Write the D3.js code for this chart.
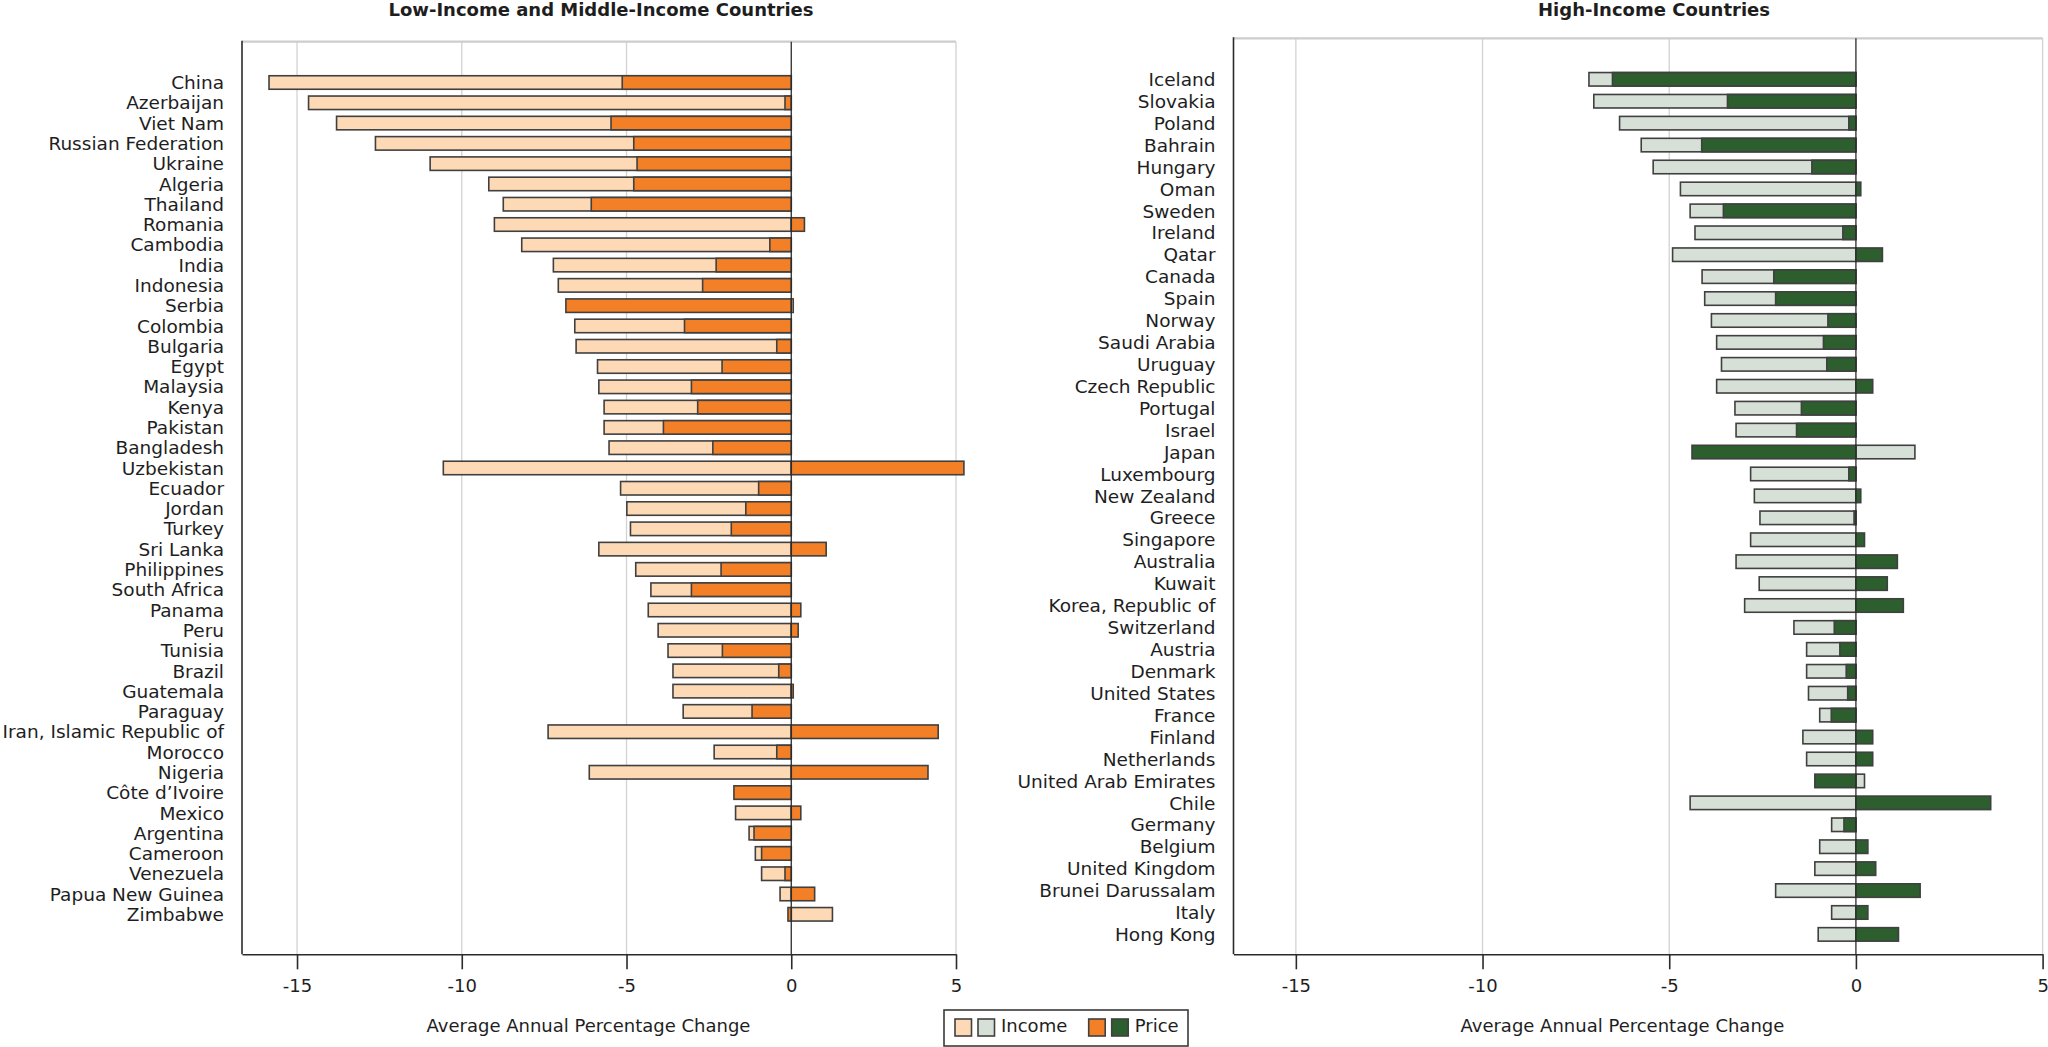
<!DOCTYPE html>
<html>
<head>
<meta charset="utf-8">
<script src="https://cdn.jsdelivr.net/npm/d3@7"></script>
<style>
  body { margin: 0; background: #fff; }
  svg text { font-family: "DejaVu Sans", Verdana, sans-serif; fill: #1e1e1e; }
</style>
</head>
<body>
<svg id="chart" width="2048" height="1047"></svg>
<script>
// ---- data ----
var lowCountries = ["China","Azerbaijan","Viet Nam","Russian Federation","Ukraine","Algeria","Thailand",
  "Romania","Cambodia","India","Indonesia","Serbia","Colombia","Bulgaria","Egypt","Malaysia","Kenya",
  "Pakistan","Bangladesh","Uzbekistan","Ecuador","Jordan","Turkey","Sri Lanka","Philippines",
  "South Africa","Panama","Peru","Tunisia","Brazil","Guatemala","Paraguay","Iran, Islamic Republic of",
  "Morocco","Nigeria","Côte d’Ivoire","Mexico","Argentina","Cameroon","Venezuela","Papua New Guinea","Zimbabwe"];
var lowIncome = [-15.85,-14.65,-13.8,-12.62,-10.96,-9.18,-8.74,-9.01,-8.18,-7.22,-7.07,0.06,-6.57,-6.53,
  -5.88,-5.84,-5.68,-5.68,-5.53,-10.56,-5.18,-4.99,-4.88,-5.84,-4.72,-4.26,-4.34,-4.04,-3.74,-3.59,-3.59,
  -3.28,-7.38,-2.34,-6.13,-1.5,-1.69,-1.28,-1.09,-0.90,-0.34,1.25];
var lowPrice = [-5.13,-0.19,-5.47,-4.78,-4.68,-4.78,-6.07,0.40,-0.65,-2.28,-2.69,-6.84,-3.24,-0.44,-2.10,
  -3.03,-2.84,-3.88,-2.38,5.24,-0.99,-1.38,-1.82,1.06,-2.13,-3.03,0.29,0.21,-2.09,-0.38,0.06,-1.19,4.46,
  -0.44,4.15,-1.74,0.29,-1.13,-0.90,-0.19,0.71,-0.10];

var highCountries = ["Iceland","Slovakia","Poland","Bahrain","Hungary","Oman","Sweden","Ireland","Qatar",
  "Canada","Spain","Norway","Saudi Arabia","Uruguay","Czech Republic","Portugal","Israel","Japan",
  "Luxembourg","New Zealand","Greece","Singapore","Australia","Kuwait","Korea, Republic of","Switzerland",
  "Austria","Denmark","United States","France","Finland","Netherlands","United Arab Emirates","Chile",
  "Germany","Belgium","United Kingdom","Brunei Darussalam","Italy","Hong Kong"];
var highIncome = [-7.15,-7.02,-6.33,-5.75,-5.43,-4.70,-4.44,-4.31,-4.91,-4.12,-4.05,-3.87,-3.73,-3.60,
  -3.73,-3.24,-3.21,1.58,-2.82,-2.72,-2.57,-2.82,-3.21,-2.59,-2.98,-1.66,-1.32,-1.32,-1.27,-0.97,-1.42,
  -1.32,0.23,-4.44,-0.65,-0.97,-1.10,-2.15,-0.65,-1.01];
var highPrice = [-6.52,-3.44,-0.19,-4.13,-1.18,0.13,-3.55,-0.35,0.71,-2.20,-2.15,-0.75,-0.87,-0.78,0.45,
  -1.46,-1.59,-4.39,-0.19,0.13,-0.05,0.23,1.11,0.84,1.27,-0.58,-0.43,-0.26,-0.22,-0.66,0.45,0.45,-1.10,
  3.61,-0.32,0.32,0.53,1.72,0.32,1.14];

var xTicks = [-15, -10, -5, 0, 5];
var xDomain = [-16.67, 5];
var legendLabels = ["Income", "Price"];

// ---- colours ----
var colors = {
  lowIncome: "#fdd9b5", lowPrice: "#f37f26",
  highIncome: "#d6e0d7", highPrice: "#2c5e2e"
};
var barStroke = "#404040";
var barH = 13.5;

var svg = d3.select("#chart");

/**
 * Draws one panel: grid, overlaid income/price bars, axis and labels.
 */
function drawPanel(p){
  var g = svg.append("g");
  var x = d3.scaleLinear().domain(xDomain).range([p.x0, p.x1]);
  var y = d3.scalePoint().domain(p.countries).range([p.yFirst, p.yLast]);

  var rows = p.countries.map(function(c, i){
    return {name: c, income: p.income[i], price: p.price[i]};
  });

  // gridlines
  g.selectAll("line.grid")
    .data(xTicks.filter(function(t){ return t !== 0; }))
    .enter().append("line")
    .attr("class", "grid")
    .attr("x1", function(d){ return x(d); })
    .attr("x2", function(d){ return x(d); })
    .attr("y1", p.top)
    .attr("y2", p.bottom)
    .attr("stroke", "#d2d2d2")
    .attr("stroke-width", 1.3);

  // top frame line
  g.append("line")
    .attr("x1", p.x0).attr("x2", p.x1)
    .attr("y1", p.top).attr("y2", p.top)
    .attr("stroke", "#cdcdcd")
    .attr("stroke-width", 2.2);

  // income bars (behind)
  g.selectAll("rect.income")
    .data(rows)
    .enter().append("rect")
    .attr("class", "income")
    .attr("x", function(d){ return x(Math.min(0, d.income)); })
    .attr("width", function(d){ return Math.abs(x(d.income) - x(0)); })
    .attr("y", function(d){ return y(d.name) - barH / 2; })
    .attr("height", barH)
    .attr("fill", p.incomeColor)
    .attr("stroke", barStroke)
    .attr("stroke-width", 1.6);

  // price bars (on top)
  g.selectAll("rect.price")
    .data(rows)
    .enter().append("rect")
    .attr("class", "price")
    .attr("x", function(d){ return x(Math.min(0, d.price)); })
    .attr("width", function(d){ return Math.abs(x(d.price) - x(0)); })
    .attr("y", function(d){ return y(d.name) - barH / 2; })
    .attr("height", barH)
    .attr("fill", p.priceColor)
    .attr("stroke", barStroke)
    .attr("stroke-width", 1.6);

  // zero line
  g.append("line")
    .attr("x1", x(0)).attr("x2", x(0))
    .attr("y1", p.top).attr("y2", p.bottom)
    .attr("stroke", "#2b2b2b")
    .attr("stroke-width", 1.3);

  // left axis line
  g.append("line")
    .attr("x1", p.x0).attr("x2", p.x0)
    .attr("y1", p.top - 1).attr("y2", p.bottom)
    .attr("stroke", "#2b2b2b")
    .attr("stroke-width", 1.6);

  // bottom axis
  var axis = g.append("g")
    .attr("transform", "translate(0," + p.bottom + ")")
    .call(d3.axisBottom(x)
      .tickValues(xTicks)
      .tickSize(15)
      .tickSizeOuter(0)
      .tickPadding(10)
      .tickFormat(function(d){ return String(d); }));
  axis.select(".domain").attr("stroke", "#2b2b2b").attr("stroke-width", 1.6);
  axis.selectAll(".tick line").attr("stroke", "#2b2b2b").attr("stroke-width", 1.6);
  axis.selectAll(".tick text")
    .attr("font-size", 18)
    .attr("font-family", "DejaVu Sans, Verdana, sans-serif")
    .attr("fill", "#1e1e1e");

  // country labels
  g.selectAll("text.label")
    .data(rows)
    .enter().append("text")
    .attr("class", "label")
    .attr("x", p.x0 - 18)
    .attr("y", function(d){ return y(d.name); })
    .attr("dy", "0.36em")
    .attr("text-anchor", "end")
    .attr("font-size", 18.5)
    .text(function(d){ return d.name; });

  // panel title
  g.append("text")
    .attr("x", p.titleX)
    .attr("y", 16)
    .attr("text-anchor", "middle")
    .attr("font-size", 18)
    .attr("font-weight", "bold")
    .text(p.title);

  // axis title
  g.append("text")
    .attr("x", p.axisTitleX)
    .attr("y", 1032)
    .attr("text-anchor", "middle")
    .attr("font-size", 18)
    .text("Average Annual Percentage Change");
}

drawPanel({
  countries: lowCountries, income: lowIncome, price: lowPrice,
  incomeColor: colors.lowIncome, priceColor: colors.lowPrice,
  x0: 242, x1: 956, top: 41.7, bottom: 954.3, yFirst: 82.5, yLast: 914.3,
  title: "Low-Income and Middle-Income Countries", titleX: 601, axisTitleX: 588.5
});

drawPanel({
  countries: highCountries, income: highIncome, price: highPrice,
  incomeColor: colors.highIncome, priceColor: colors.highPrice,
  x0: 1233.5, x1: 2042.6, top: 38.3, bottom: 954.3, yFirst: 79.3, yLast: 934.4,
  title: "High-Income Countries", titleX: 1654, axisTitleX: 1622.4
});

// ---- legend ----
var legendItems = [
  {label: legendLabels[0], swatches: [colors.lowIncome, colors.highIncome], x: 955},
  {label: legendLabels[1], swatches: [colors.lowPrice, colors.highPrice], x: 1088.7}
];
var legend = svg.append("g");
legend.append("rect")
  .attr("x", 944).attr("y", 1010)
  .attr("width", 244).attr("height", 36)
  .attr("fill", "#fff")
  .attr("stroke", "#3a3a3a")
  .attr("stroke-width", 1.6);

var item = legend.selectAll("g.item")
  .data(legendItems)
  .enter().append("g")
  .attr("class", "item")
  .attr("transform", function(d){ return "translate(" + d.x + ",1019)"; });

item.selectAll("rect")
  .data(function(d){ return d.swatches; })
  .enter().append("rect")
  .attr("x", function(d, i){ return i * 23; })
  .attr("y", 0)
  .attr("width", 16.5)
  .attr("height", 17)
  .attr("fill", function(d){ return d; })
  .attr("stroke", barStroke)
  .attr("stroke-width", 1.6);

item.append("text")
  .attr("x", 46)
  .attr("y", 13.3)
  .attr("font-size", 18)
  .text(function(d){ return d.label; });
</script>
</body>
</html>
